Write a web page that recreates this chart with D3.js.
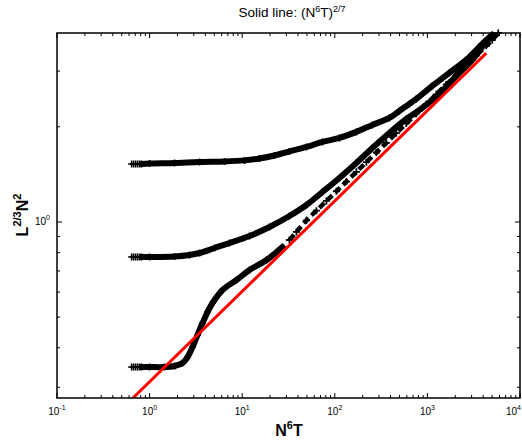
<!DOCTYPE html>
<html><head><meta charset="utf-8">
<script src="https://cdn.jsdelivr.net/npm/d3@7"></script>
<style>body{margin:0;background:#fff;overflow:hidden}svg{display:block}text{font-family:"Liberation Sans",Arial,sans-serif;fill:#000}</style>
</head><body><svg id="c" width="522" height="441"></svg>
<script>
// ---- data ----
const xTicks = [0.1, 1, 10, 100, 1000, 10000];
const xTickExp = ["-1", "0", "1", "2", "3", "4"];
const yTicks = [1];
const yTickExp = ["0"];

const c1X = [0.6395,0.6722,0.7063,0.7423,0.7801,0.8199,1.0,1.861,3.462,6.443,10.59,15.37,22.31,32.37,49.38,73.48,112.1,171.0,254.4,388.2,497.7,637.8,759.2,1129.5,1723,2628,3910,5014];
const c1Y = [1.526,1.526,1.526,1.526,1.526,1.526,1.531,1.537,1.549,1.554,1.566,1.588,1.623,1.672,1.727,1.791,1.844,1.927,2.028,2.134,2.245,2.362,2.451,2.694,2.961,3.256,3.659,3.907];

const c2X = [0.6395,0.6722,0.7063,0.7423,0.7801,0.8199,1.0,1.861,2.701,3.462,5.025,7.295,11.99,19.71,32.37,49.38,73.48,112.1,171.0,254.4,388.2,592.1,881.0,1344,2050,3051,4319,5014];
const c2Y = [0.7747,0.7747,0.7747,0.7747,0.7747,0.7747,0.7747,0.7776,0.7862,0.7977,0.8274,0.858,0.9030,0.9643,1.0447,1.132,1.244,1.378,1.537,1.715,1.912,2.118,2.295,2.542,2.897,3.256,3.713,3.849];

const c3X = [0.6395,0.6722,0.7063,0.7423,0.7801,0.8199,1.0,1.451,1.861,2.270,2.570,2.910,3.295,3.730,4.223,4.781,6.131,8.681,11.99,18.29,27.21];
const c3Y = [0.3477,0.3477,0.3477,0.3477,0.3477,0.3477,0.3477,0.3477,0.3503,0.3580,0.3739,0.4022,0.4389,0.4791,0.5190,0.5542,0.6092,0.6553,0.7047,0.7579,0.8334];

const c3TailX = [32.37,38.53,49.38,63.31,81.19,104.1,133.4,171.0,219.2,281.0,360.3,461.8,592.1,759.2,972.9,1247,1599,2050,2628,3370,4319,5014,5820];
const c3TailY = [0.877,0.9298,1.0118,1.0858,1.1654,1.2507,1.3424,1.4404,1.5453,1.658,1.7795,1.9099,2.0497,2.1998,2.361,2.5338,2.7194,2.9185,3.1304,3.3598,3.6058,3.7614,3.963];

const redX = [0.656, 4320];
const redY = [0.277, 3.42];

// ---- layout ----
const L = 57, R = 520, T = 33, B = 398;
const svg = d3.select("#c");
const x = d3.scaleLog().domain([0.1, 10000]).range([L, R]);
const y = d3.scaleLog().domain([0.2775, 3.96]).range([B, T]);

svg.append("clipPath").attr("id","clip").append("rect")
  .attr("x", L).attr("y", T-6).attr("width", R-L+4).attr("height", B-T+6);

// title
const title = svg.append("text").attr("x", 292).attr("y", 17).attr("text-anchor","middle").attr("font-size", 13.5);
title.append("tspan").text("Solid line: (N");
title.append("tspan").attr("font-size", 9).attr("dy", -5).text("6");
title.append("tspan").attr("dy", 5).text("T)");
title.append("tspan").attr("font-size", 9).attr("dy", -5).text("2/7");

// x label
const xl = svg.append("text").attr("x", 289).attr("y", 436).attr("text-anchor","middle").attr("font-size", 16).attr("font-weight","bold");
xl.append("tspan").text("N");
xl.append("tspan").attr("font-size", 11).attr("dy", -7).text("6");
xl.append("tspan").attr("dy", 7).text("T");

// y label
const yl = svg.append("text").attr("transform","translate(28,215) rotate(-90)").attr("text-anchor","middle").attr("font-size", 16).attr("font-weight","bold");
yl.append("tspan").text("L");
yl.append("tspan").attr("font-size", 11).attr("dy", -7).text("2/3");
yl.append("tspan").attr("dy", 7).text("N");
yl.append("tspan").attr("font-size", 11).attr("dy", -7).text("2");

// ticks
const ax = svg.append("g").attr("stroke","#000").attr("stroke-width",1);
const xMinor = [];
for (let e = -1; e < 4; e++) for (let k = 2; k <= 9; k++) xMinor.push(k * Math.pow(10, e));
xMinor.forEach(v => {
  const px = x(v);
  ax.append("line").attr("x1",px).attr("x2",px).attr("y1",B).attr("y2",B-3);
  ax.append("line").attr("x1",px).attr("x2",px).attr("y1",T).attr("y2",T+3);
});
xTicks.forEach(v => {
  const px = x(v);
  ax.append("line").attr("x1",px).attr("x2",px).attr("y1",B).attr("y2",B-5);
  ax.append("line").attr("x1",px).attr("x2",px).attr("y1",T).attr("y2",T+5);
});
const yMinor = [0.3,0.4,0.5,0.6,0.7,0.8,0.9,2,3];
yMinor.forEach(v => {
  const py = y(v);
  ax.append("line").attr("x1",L).attr("x2",L+3).attr("y1",py).attr("y2",py);
  ax.append("line").attr("x1",R).attr("x2",R-3).attr("y1",py).attr("y2",py);
});
yTicks.forEach(v => {
  const py = y(v);
  ax.append("line").attr("x1",L).attr("x2",L+5).attr("y1",py).attr("y2",py);
  ax.append("line").attr("x1",R).attr("x2",R-5).attr("y1",py).attr("y2",py);
});

// tick labels
xTicks.forEach((v,i) => {
  const last = i === xTicks.length - 1;
  const t = svg.append("text").attr("x", last ? 521 : x(v)).attr("y", 415)
    .attr("text-anchor", last ? "end" : "middle").attr("font-size", 10).attr("fill","#222");
  t.append("tspan").text("10");
  t.append("tspan").attr("font-size", 7).attr("dy", -5).text(xTickExp[i]);
});
yTicks.forEach((v,i) => {
  const t = svg.append("text").attr("x", 50).attr("y", y(v)+3).attr("text-anchor","end").attr("font-size", 10).attr("fill","#222");
  t.append("tspan").text("10");
  t.append("tspan").attr("font-size", 7).attr("dy", -5).text(yTickExp[i]);
});

// data
const plot = svg.append("g").attr("clip-path","url(#clip)");
const line = d3.line().x(d => x(d[0])).y(d => y(d[1])).curve(d3.curveCatmullRom.alpha(0.5));
function plusAt(g, px, py, sw) {
  g.append("path").attr("d", `M${px-3.5},${py}H${px+3.5}M${px},${py-3.5}V${py+3.5}`)
    .attr("stroke","#000").attr("stroke-width",sw).attr("fill","none");
}
function drawCurve(xs, ys, denseFrom) {
  const pts = xs.map((v,i) => [v, ys[i]]);
  plot.append("path").datum(pts.slice(denseFrom))
    .attr("d", line).attr("fill","none").attr("stroke","#000")
    .attr("stroke-width", 6).attr("stroke-linejoin","round").attr("stroke-linecap","round");
  pts.forEach(p => plusAt(plot, x(p[0]), y(p[1]), 1.6));
}
drawCurve(c1X, c1Y, 5);
drawCurve(c2X, c2Y, 5);
drawCurve(c3X, c3Y, 5);

// sparse tail of lowest curve
const tail = c3TailX.map((v,i) => [v, c3TailY[i]]);
plot.append("path").datum(tail).attr("d", line).attr("fill","none").attr("stroke","#000")
  .attr("stroke-width",4.5).attr("stroke-dasharray","7 4");
tail.forEach(p => plusAt(plot, x(p[0]), y(p[1]), 1.8));

// red solid line
plot.append("path").datum(redX.map((v,i)=>[v, redY[i]]))
  .attr("d", d3.line().x(d=>x(d[0])).y(d=>y(d[1]))).attr("stroke","#ff0000").attr("stroke-width",3).attr("fill","none");

// frame
svg.append("rect").attr("x",L).attr("y",T).attr("width",R-L).attr("height",B-T)
  .attr("fill","none").attr("stroke","#000").attr("stroke-width",1.5);
</script></body></html>
